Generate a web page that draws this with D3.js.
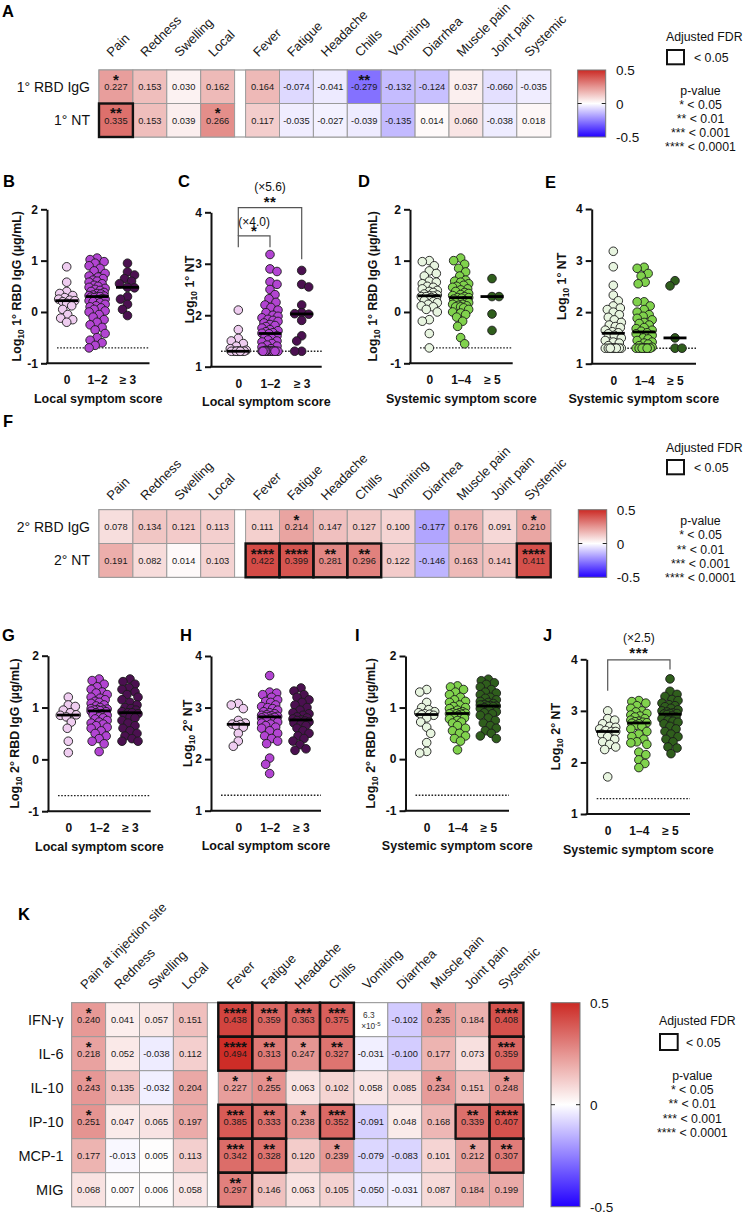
<!DOCTYPE html>
<html><head><meta charset="utf-8">
<script src="https://cdn.jsdelivr.net/npm/d3@7"></script>
<style>
body{margin:0;background:#fff}
svg{display:block;font-family:"Liberation Sans",Arial,Helvetica,sans-serif}
</style>
</head><body>
<svg id="c" width="744" height="1214"></svg>
<script>
// ---------------- DATA ----------------
const symptomCols = ["Pain","Redness","Swelling","Local","Fever","Fatigue","Headache","Chills","Vomiting","Diarrhea","Muscle pain","Joint pain","Systemic"];
const kCols = ["Pain at injection site","Redness","Swelling","Local","Fever","Fatigue","Headache","Chills","Vomiting","Diarrhea","Muscle pain","Joint pain","Systemic"];

const aRows = ["1° RBD IgG","1° NT"];
const aValues = [
  [0.227,0.153,0.030,0.162,0.164,-0.074,-0.041,-0.279,-0.132,-0.124,0.037,-0.060,-0.035],
  [0.335,0.153,0.039,0.266,0.117,-0.035,-0.027,-0.039,-0.135,0.014,0.060,-0.038,0.018]];
const aStars = [[1,0,0,0,0,0,0,2,0,0,0,0,0],[2,0,0,1,0,0,0,0,0,0,0,0,0]];
const aFdr = [[0,0,0,0,0,0,0,0,0,0,0,0,0],[1,0,0,0,0,0,0,0,0,0,0,0,0]];

const fRows = ["2° RBD IgG","2° NT"];
const fValues = [
  [0.078,0.134,0.121,0.113,0.111,0.214,0.147,0.127,0.100,-0.177,0.176,0.091,0.210],
  [0.191,0.082,0.014,0.103,0.422,0.399,0.281,0.296,0.122,-0.146,0.163,0.141,0.411]];
const fStars = [[0,0,0,0,0,1,0,0,0,0,0,0,1],[0,0,0,0,4,4,2,2,0,0,0,0,4]];
const fFdr = [[0,0,0,0,0,0,0,0,0,0,0,0,0],[0,0,0,0,1,1,1,1,0,0,0,0,1]];

const kRows = ["IFN-γ","IL-6","IL-10","IP-10","MCP-1","MIG"];
const kValues = [
  [0.240,0.041,0.057,0.151,0.438,0.359,0.363,0.375,0.000063,-0.102,0.235,0.184,0.408],
  [0.218,0.052,-0.038,0.112,0.494,0.313,0.247,0.327,-0.031,-0.100,0.177,0.073,0.359],
  [0.243,0.135,-0.032,0.204,0.227,0.255,0.063,0.102,0.058,0.085,0.234,0.151,0.248],
  [0.251,0.047,0.065,0.197,0.385,0.333,0.238,0.352,-0.091,0.048,0.168,0.339,0.407],
  [0.177,-0.013,0.005,0.113,0.342,0.328,0.120,0.239,-0.079,-0.083,0.101,0.212,0.307],
  [0.068,0.007,0.006,0.058,0.297,0.146,0.063,0.105,-0.050,-0.031,0.087,0.184,0.199]];
const kStars = [
  [1,0,0,0,4,3,3,3,0,0,1,0,4],
  [1,0,0,0,4,2,1,2,0,0,0,0,3],
  [1,0,0,0,1,1,0,0,0,0,1,0,1],
  [1,0,0,0,3,2,1,3,0,0,0,2,4],
  [0,0,0,0,3,2,0,1,0,0,0,1,2],
  [0,0,0,0,2,0,0,0,0,0,0,0,0]];
const kFdr = [
  [0,0,0,0,1,1,1,1,0,0,0,0,1],
  [0,0,0,0,1,1,0,1,0,0,0,0,1],
  [0,0,0,0,0,0,0,0,0,0,0,0,0],
  [0,0,0,0,1,1,0,1,0,0,0,1,1],
  [0,0,0,0,1,1,0,0,0,0,0,0,1],
  [0,0,0,0,1,0,0,0,0,0,0,0,0]];

const colorTicks = [0.5, 0, -0.5];
const legendLines = ["* < 0.05","** < 0.01","*** < 0.001","**** < 0.0001"];

const localCats = ["0","1–2","≥ 3"];
const sysCats = ["0","1–4","≥ 5"];

// B: Local vs 1° RBD IgG
const b0 = [0.88,0.58,0.4,0.36,0.32,0.28,0.25,0.23,0.22,0.2,0.17,0.12,0.05,-0.05,-0.12,-0.15,-0.2];
const b12 = [1.05,1.02,0.98,0.95,0.9,0.85,0.8,0.75,0.7,0.68,0.65,0.62,0.6,0.58,0.55,0.52,0.5,0.48,0.46,0.44,0.42,0.4,0.38,0.36,0.35,0.33,0.32,0.31,0.3,0.3,0.29,0.28,0.26,0.25,0.23,0.22,0.2,0.18,0.15,0.12,0.1,0.08,0.05,0.02,0.0,-0.05,-0.1,-0.15,-0.2,-0.25,-0.3,-0.35,-0.42,-0.5,-0.55,-0.6,-0.65,-0.7];
const b3 = [0.95,0.78,0.72,0.65,0.6,0.55,0.48,0.47,0.3,0.25,0.15,0.05,-0.07];
// C: Local vs 1° NT
const c0 = [2.1,1.72,1.55,1.5,1.45,1.4,1.35,1.32,1.3,1.3,1.3,1.3,1.3,1.3,1.3,1.3,1.3];
const c12 = [3.18,2.9,2.85,2.65,2.6,2.5,2.4,2.32,2.25,2.2,2.15,2.1,2.05,2.0,1.98,1.95,1.92,1.9,1.88,1.85,1.82,1.8,1.78,1.75,1.72,1.7,1.68,1.66,1.65,1.64,1.6,1.58,1.55,1.52,1.5,1.48,1.45,1.42,1.4,1.38,1.35,1.32,1.3,1.3,1.3,1.3,1.3,1.3,1.3,1.3,1.3,1.3,1.3,1.3,1.3,1.3,1.3,1.3];
const c3 = [2.87,2.6,2.55,2.2,2.05,2.03,2.02,1.9,1.6,1.5,1.3,1.3];
// D: Systemic vs 1° RBD IgG
const d0 = [1.0,0.98,0.9,0.8,0.75,0.7,0.6,0.58,0.55,0.5,0.48,0.45,0.42,0.4,0.38,0.35,0.33,0.32,0.31,0.3,0.3,0.28,0.26,0.25,0.22,0.2,0.18,0.15,0.12,0.1,0.05,0.0,-0.15,-0.18,-0.42,-0.7];
const d14 = [1.05,1.0,0.93,0.85,0.78,0.7,0.62,0.6,0.58,0.55,0.52,0.5,0.48,0.45,0.43,0.4,0.38,0.36,0.34,0.32,0.3,0.28,0.28,0.27,0.25,0.22,0.2,0.18,0.18,0.15,0.15,0.13,0.12,0.1,0.1,0.08,0.05,0.0,-0.02,-0.05,-0.1,-0.18,-0.28,-0.5,-0.62];
const d5 = [0.65,0.3,0.3,-0.04,-0.36];
// E: Systemic vs 1° NT
const e0 = [3.18,2.88,2.52,2.33,2.22,2.12,2.08,2.05,2.0,1.95,1.9,1.85,1.8,1.75,1.72,1.7,1.65,1.62,1.6,1.58,1.55,1.5,1.45,1.42,1.4,1.35,1.3,1.3,1.3,1.3,1.3,1.3,1.3,1.3,1.3,1.3,1.3,1.3];
const e14 = [2.87,2.85,2.75,2.7,2.58,2.55,2.2,2.2,2.12,2.05,2.0,1.95,1.92,1.88,1.85,1.8,1.78,1.75,1.7,1.68,1.65,1.63,1.6,1.58,1.55,1.5,1.48,1.45,1.42,1.4,1.38,1.35,1.32,1.3,1.3,1.3,1.3,1.3,1.3,1.3,1.3,1.3,1.3,1.3];
const e5 = [2.61,2.51,1.5,1.3,1.3];
// G: Local vs 2° RBD IgG
const g0 = [1.2,1.05,1.02,0.95,0.9,0.86,0.85,0.82,0.72,0.6,0.35,0.13];
const g12 = [1.55,1.52,1.45,1.4,1.35,1.3,1.28,1.25,1.2,1.18,1.15,1.12,1.1,1.08,1.05,1.03,1.0,0.98,0.97,0.96,0.95,0.95,0.94,0.93,0.92,0.9,0.88,0.86,0.85,0.82,0.8,0.78,0.75,0.72,0.7,0.68,0.65,0.62,0.6,0.55,0.5,0.45,0.4,0.35,0.3,0.15];
const g3 = [1.55,1.5,1.45,1.38,1.35,1.3,1.25,1.2,1.15,1.1,1.05,1.0,0.98,0.95,0.92,0.9,0.9,0.88,0.85,0.82,0.8,0.75,0.7,0.65,0.6,0.55,0.5,0.45,0.4,0.35,0.35];
// H: Local vs 2° NT
const h0 = [3.08,3.05,2.98,2.75,2.7,2.68,2.67,2.65,2.62,2.5,2.35,2.25];
const h12 = [3.62,3.3,3.28,3.25,3.2,3.15,3.12,3.1,3.05,3.02,3.0,2.98,2.95,2.92,2.9,2.88,2.86,2.85,2.84,2.83,2.82,2.82,2.81,2.8,2.78,2.75,2.72,2.7,2.68,2.65,2.62,2.6,2.55,2.5,2.45,2.4,2.35,2.3,2.02,1.9,1.72];
const h3 = [3.38,3.32,3.25,3.2,3.15,3.1,3.05,3.0,2.95,2.9,2.88,2.85,2.82,2.8,2.78,2.76,2.75,2.74,2.72,2.7,2.68,2.65,2.6,2.55,2.5,2.45,2.4,2.35,2.28,2.2,2.17];
// I: Systemic vs 2° RBD IgG
const i0 = [1.35,1.3,1.1,1.0,0.96,0.92,0.9,0.88,0.87,0.86,0.85,0.8,0.72,0.62,0.5,0.32,0.15,0.12];
const i14 = [1.42,1.4,1.35,1.3,1.25,1.2,1.15,1.12,1.1,1.05,1.02,1.0,0.98,0.95,0.92,0.9,0.9,0.89,0.88,0.88,0.87,0.85,0.83,0.8,0.78,0.75,0.72,0.7,0.65,0.6,0.55,0.5,0.45,0.4,0.35,0.18];
const i5 = [1.55,1.52,1.48,1.45,1.4,1.35,1.3,1.28,1.25,1.2,1.18,1.15,1.12,1.1,1.08,1.06,1.05,1.04,1.03,1.03,1.02,1.0,0.98,0.95,0.92,0.9,0.88,0.85,0.8,0.75,0.7,0.65,0.6,0.55,0.5,0.45,0.4];
// J: Systemic vs 2° NT
const j0 = [3.0,2.85,2.82,2.75,2.7,2.68,2.65,2.62,2.6,2.6,2.55,2.5,2.45,2.4,2.35,2.3,2.25,1.72];
const j14 = [3.2,3.18,3.15,3.1,3.05,3.0,2.98,2.95,2.92,2.9,2.88,2.85,2.82,2.8,2.79,2.78,2.77,2.76,2.75,2.72,2.7,2.65,2.6,2.55,2.5,2.45,2.4,2.38,2.35,2.2,2.15,2.05,1.98,1.9];
const j5 = [3.62,3.38,3.32,3.28,3.22,3.2,3.15,3.12,3.1,3.08,3.05,3.02,3.0,2.98,2.96,2.95,2.95,2.94,2.93,2.9,2.88,2.85,2.82,2.8,2.78,2.75,2.7,2.65,2.6,2.55,2.5,2.45,2.4,2.3,2.28,2.17];

const lodIgG = -0.7, lodNT = 1.3;
const igTicks = [-1,0,1,2], ntTicks = [1,2,3,4];

const cBrackets = [
  {a:"0", b:"≥ 3", top:4.09, leftEnd:3.54, rightEnd:3.09, fold:"(×5.6)", stars:"**"},
  {a:"0", b:"1–2", top:3.54, leftEnd:3.32, rightEnd:3.32, fold:"(×4.0)", stars:"*"}];
const jBrackets = [
  {a:"0", b:"≥ 5", top:3.99, leftEnd:3.39, rightEnd:3.80, fold:"(×2.5)", stars:"***"}];

// ---------------- DRAWING ----------------
const svg = d3.select("#c");
const FONT = '"Liberation Sans",Arial,Helvetica,sans-serif';
const color = d3.scaleLinear().domain([-0.5,0,0.5]).range(["#2200ff","#ffffff","#cc2a24"]).clamp(true);
const fmt3 = v => d3.format(".3f")(v).replace("\u2212","-");

function panelLetter(t, x, y){
  svg.append("text").attr("x",x).attr("y",y).attr("font-size",16.5).attr("font-weight","bold").text(t);
}

function heatmap(o){
  const g = svg.append("g");
  const nC = o.cols.length;
  const xOf = j => o.x0 + j*o.cw + (j>=4 ? o.gap : 0);
  const yS = d3.scaleBand().domain(d3.range(o.rows.length)).range([o.y0, o.y0 + o.rows.length*o.rh]);
  const cells = [];
  o.values.forEach((row,i)=>row.forEach((v,j)=>cells.push({i,j,v,s:o.stars[i][j],f:o.fdr[i][j]})));
  const W = nC*o.cw + o.gap;
  g.append("rect").attr("x",o.x0).attr("y",o.y0).attr("width",W).attr("height",o.rows.length*o.rh)
    .attr("fill","#fff").attr("stroke","#9a9a9a").attr("stroke-width",1.2);
  g.selectAll("rect.cell").data(cells).join("rect").attr("class","cell")
    .attr("x",d=>xOf(d.j)).attr("y",d=>yS(d.i)).attr("width",o.cw).attr("height",yS.bandwidth())
    .attr("fill",d=>color(d.v)).attr("stroke","#9a9a9a").attr("stroke-width",1);
  cells.forEach(d=>{
    const cx = xOf(d.j)+o.cw/2, cy = yS(d.i)+yS.bandwidth()/2;
    if (Math.abs(d.v) > 0 && Math.abs(d.v) < 0.001){
      const e = Math.floor(Math.log10(Math.abs(d.v)));
      const m = d.v/Math.pow(10,e);
      g.append("text").attr("x",cx-2).attr("y",cy-2).attr("text-anchor","middle")
        .attr("font-size",8.3).attr("fill","#333").text(d3.format(".1f")(m));
      const t = g.append("text").attr("x",cx).attr("y",cy+9).attr("text-anchor","middle")
        .attr("font-size",8.3).attr("fill","#333");
      t.append("tspan").text("×10");
      t.append("tspan").attr("font-size",6).attr("dy",-3).text(String(e).replace("\u2212","-"));
    } else {
      g.append("text").attr("x",cx).attr("y",cy+3.6).attr("text-anchor","middle")
        .attr("font-size",9.3).attr("fill","#1a1a1a").text(fmt3(d.v));
    }
    if (d.s>0){
      g.append("text").attr("x",cx).attr("y",cy-1.8).attr("text-anchor","middle")
        .attr("font-size",15).attr("font-weight","bold").attr("fill","#111")
        .text("*".repeat(d.s));
    }
  });
  g.selectAll("rect.fdr").data(cells.filter(d=>d.f)).join("rect").attr("class","fdr")
    .attr("x",d=>xOf(d.j)).attr("y",d=>yS(d.i)).attr("width",o.cw).attr("height",yS.bandwidth())
    .attr("fill","none").attr("stroke","#111").attr("stroke-width",2.4);
  g.selectAll("text.rl").data(o.rows).join("text").attr("class","rl")
    .attr("x",o.rowX).attr("y",(d,i)=>yS(i)+yS.bandwidth()/2+5).attr("text-anchor","end")
    .attr("font-size",o.rowFont).attr("fill","#111").text(d=>d);
  g.selectAll("text.cl").data(o.cols).join("text").attr("class","cl")
    .attr("transform",(d,j)=>`translate(${xOf(j)+o.cw/2+o.colDx},${o.colY}) rotate(-45)`)
    .attr("font-size",13).attr("fill","#1a1a1a").text(d=>d);
}

function colorbar(x,y,w,h,labelX, id){
  const defs = svg.append("defs");
  const grad = defs.append("linearGradient").attr("id",id).attr("x1",0).attr("y1",0).attr("x2",0).attr("y2",1);
  d3.range(0,1.0001,0.05).forEach(t=>{
    grad.append("stop").attr("offset",t).attr("stop-color",color(0.5 - t));
  });
  svg.append("rect").attr("x",x).attr("y",y).attr("width",w).attr("height",h)
    .attr("fill",`url(#${id})`).attr("stroke","#777").attr("stroke-width",1);
  const ys = d3.scaleLinear().domain([0.5,-0.5]).range([y,y+h]);
  svg.append("line").attr("x1",x).attr("x2",x+4).attr("y1",ys(0)).attr("y2",ys(0)).attr("stroke","#222");
  svg.append("line").attr("x1",x+w-4).attr("x2",x+w).attr("y1",ys(0)).attr("y2",ys(0)).attr("stroke","#222");
  svg.selectAll(null).data(colorTicks).join("text")
    .attr("x",labelX).attr("y",d=>ys(d)+5).attr("font-size",13.5).attr("fill","#111").text(d=>String(d));
}

function legend(o){
  svg.append("text").attr("x",o.x).attr("y",o.adjY+4.5).attr("font-size",12.3).attr("fill","#111").text("Adjusted FDR");
  svg.append("rect").attr("x",o.x+1).attr("y",o.sqY).attr("width",o.sqW).attr("height",o.sqH)
    .attr("fill","none").attr("stroke","#111").attr("stroke-width",2);
  svg.append("text").attr("x",o.ltX).attr("y",o.sqY+o.sqH/2+4.5).attr("font-size",12.3).attr("fill","#111").text("< 0.05");
  svg.append("text").attr("x",o.cx).attr("y",o.pvY+4.5).attr("text-anchor","middle").attr("font-size",12.3).attr("fill","#111").text("p-value");
  svg.selectAll(null).data(legendLines).join("text")
    .attr("x",o.cx).attr("y",(d,i)=>o.l0+i*o.dl+4.5).attr("text-anchor","middle")
    .attr("font-size",12.3).attr("fill","#111").text(d=>d);
}

function swarm(vals, cx, y){
  const minD = 7.0, maxOff = 8.5, step = 1;
  const pts = vals.map(v=>({v, y:y(v)})).sort((a,b)=>d3.ascending(a.y,b.y));
  const placed = [];
  pts.forEach((p,idx)=>{
    let best = 0, bestScore = -1, found = false;
    const first = idx%2 ? -1 : 1;
    for (let k=0;k<=maxOff/step && !found;k++){
      const offs = k===0 ? [0] : [first*k*step, -first*k*step];
      for (const off of offs){
        let md = Infinity;
        for (const q of placed){ const dd = Math.hypot(q.x-(cx+off), q.y-p.y); if (dd<md) md = dd; }
        if (md >= minD){ best = off; found = true; break; }
        if (md > bestScore + 0.3){ bestScore = md; best = off; }
      }
    }
    p.x = cx + best; placed.push(p);
  });
  return placed;
}

function scatter(o){
  const g = svg.append("g");
  const y = d3.scaleLinear().domain(o.dom).range([o.bottom,o.top]);
  const x = d3.scalePoint().domain(o.cats).range([o.c0,o.c2]);
  g.append("line").attr("x1",o.ax+10).attr("x2",o.xEnd).attr("y1",y(o.lod)).attr("y2",y(o.lod))
    .attr("stroke","#222").attr("stroke-width",1.3).attr("stroke-dasharray","1.6,1.6");
  o.groups.forEach((vals,gi)=>{
    const pts = swarm(vals, x(o.cats[gi]), y);
    g.selectAll(null).data(pts).join("circle")
      .attr("cx",d=>d.x).attr("cy",d=>d.y).attr("r",4.3)
      .attr("fill",o.colors[gi]).attr("stroke","#1c1c1c").attr("stroke-width",0.9);
    const med = d3.median(vals);
    g.append("line").attr("x1",x(o.cats[gi])-11.5).attr("x2",x(o.cats[gi])+11.5)
      .attr("y1",y(med)).attr("y2",y(med)).attr("stroke","#000").attr("stroke-width",2.8);
  });
  const ya = g.append("g").attr("transform",`translate(${o.ax},0)`)
    .call(d3.axisLeft(y).tickValues(o.ticks).tickSize(6).tickSizeOuter(0).tickPadding(3).tickFormat(d3.format("d")));
  ya.select(".domain").attr("stroke","#111").attr("stroke-width",2);
  ya.selectAll(".tick line").attr("stroke","#111").attr("stroke-width",2);
  ya.selectAll(".tick text").attr("font-size",12).attr("font-weight","bold").attr("font-family",FONT).attr("fill","#111")
    .text(function(){ return this.textContent.replace("\u2212","-"); });
  g.append("line").attr("x1",o.ax-1).attr("x2",o.xEnd).attr("y1",o.bottom).attr("y2",o.bottom)
    .attr("stroke","#111").attr("stroke-width",2);
  const xa = g.append("g").attr("transform",`translate(0,${o.bottom})`)
    .call(d3.axisBottom(x).tickSize(0).tickPadding(12.5));
  xa.select(".domain").remove();
  xa.selectAll(".tick text").attr("font-size",12).attr("font-weight","bold").attr("font-family",FONT).attr("fill","#111");
  g.append("text").attr("x",(o.ax+o.xEnd)/2).attr("y",o.bottom+39.5).attr("text-anchor","middle")
    .attr("font-size",12.5).attr("font-weight","bold").attr("fill","#111").text(o.xTitle);
  const yt = g.append("text").attr("transform",`translate(${o.yTitleX},${(o.top+o.bottom)/2}) rotate(-90)`)
    .attr("text-anchor","middle").attr("font-size",12.4).attr("font-weight","bold").attr("fill","#111");
  yt.append("tspan").text("Log");
  yt.append("tspan").attr("font-size",8.5).attr("dy",3).text("10");
  yt.append("tspan").attr("dy",-3).text(" " + o.yTitle);
  (o.brackets||[]).forEach(b=>{
    const xa_ = x(b.a), xb = x(b.b), yt_ = y(b.top);
    g.append("path").attr("d",`M${xa_},${y(b.leftEnd)}V${yt_}H${xb}V${y(b.rightEnd)}`)
      .attr("fill","none").attr("stroke","#555").attr("stroke-width",1.2);
    const cx = (xa_+xb)/2;
    g.append("text").attr("x",cx).attr("y",yt_-b.foldDy).attr("text-anchor","middle")
      .attr("font-size",12).attr("fill","#111").text(b.fold);
    g.append("text").attr("x",cx).attr("y",yt_-b.starDy).attr("text-anchor","middle")
      .attr("font-size",15).attr("font-weight","bold").attr("letter-spacing",0.5).attr("fill","#111").text(b.stars);
  });
}

// ---- Panel A ----
panelLetter("A",2,17);
heatmap({x0:99, y0:70, cw:33.9, rh:33.5, gap:11, rows:aRows, cols:symptomCols, values:aValues, stars:aStars, fdr:aFdr,
  rowX:90, rowFont:14, colY:57.5, colDx:-4});
colorbar(577.7,70,28,67,616,"gA");
legend({x:666, adjY:36.7, sqY:50, sqW:17, sqH:14.3, ltX:694, cx:700.5, pvY:90, l0:104.3, dl:14.2});

// ---- Panels B-E ----
panelLetter("B",3,187); panelLetter("C",178,187); panelLetter("D",358,187); panelLetter("E",545,188);
const localColors = ["#efcdf0","#b244d2","#4b1050"];
const sysColors = ["#e8f5e0","#80d24c","#2f5e1c"];
scatter({ax:47, top:209.3, bottom:363.3, xEnd:149.5, dom:[-1,2], ticks:igTicks, cats:localCats, c0:66.7, c2:127.5,
  groups:[b0,b12,b3], colors:localColors, lod:lodIgG, yTitle:"1° RBD IgG (µg/mL)", yTitleX:21, xTitle:"Local symptom score"});
scatter({ax:211, top:212.3, bottom:366.7, xEnd:321.7, dom:[1,4], ticks:ntTicks, cats:localCats, c0:238.3, c2:301.7,
  groups:[c0,c12,c3], colors:localColors, lod:lodNT, yTitle:"1° NT", yTitleX:194, xTitle:"Local symptom score",
  brackets:[Object.assign({foldDy:17, starDy:0.5},cBrackets[0]), Object.assign({foldDy:10, starDy:0},cBrackets[1])]});
scatter({ax:410, top:209.3, bottom:363.3, xEnd:512.7, dom:[-1,2], ticks:igTicks, cats:sysCats, c0:429.3, c2:492,
  groups:[d0,d14,d5], colors:sysColors, lod:lodIgG, yTitle:"1° RBD IgG (µg/mL)", yTitleX:377, xTitle:"Systemic symptom score"});
scatter({ax:591.7, top:209, bottom:363.7, xEnd:696, dom:[1,4], ticks:ntTicks, cats:sysCats, c0:613.3, c2:675,
  groups:[e0,e14,e5], colors:sysColors, lod:lodNT, yTitle:"1° NT", yTitleX:566, xTitle:"Systemic symptom score"});

// ---- Panel F ----
panelLetter("F",3,427);
heatmap({x0:99, y0:509.7, cw:33.9, rh:33.8, gap:11, rows:fRows, cols:symptomCols, values:fValues, stars:fStars, fdr:fFdr,
  rowX:90, rowFont:14, colY:501, colDx:-4});
colorbar(578.3,509.7,28.4,67.6,616.7,"gF");
legend({x:666, adjY:447, sqY:460, sqW:17, sqH:14.3, ltX:694, cx:700.5, pvY:520, l0:534.7, dl:14.4});

// ---- Panels G-J ----
panelLetter("G",2,641); panelLetter("H",180,641); panelLetter("I",355,641); panelLetter("J",543,641);
scatter({ax:48, top:655.7, bottom:811.2, xEnd:150.7, dom:[-1,2], ticks:igTicks, cats:localCats, c0:68.3, c2:130,
  groups:[g0,g12,g3], colors:localColors, lod:lodIgG, yTitle:"2° RBD IgG (µg/mL)", yTitleX:19, xTitle:"Local symptom score"});
scatter({ax:211, top:656, bottom:810.7, xEnd:321, dom:[1,4], ticks:ntTicks, cats:localCats, c0:238.3, c2:301,
  groups:[h0,h12,h3], colors:localColors, lod:lodNT, yTitle:"2° NT", yTitleX:192, xTitle:"Local symptom score"});
scatter({ax:405.5, top:656, bottom:810.7, xEnd:509, dom:[-1,2], ticks:igTicks, cats:sysCats, c0:426.7, c2:488.3,
  groups:[i0,i14,i5], colors:sysColors, lod:lodIgG, yTitle:"2° RBD IgG (µg/mL)", yTitleX:375, xTitle:"Systemic symptom score"});
scatter({ax:586.7, top:659.3, bottom:814, xEnd:690, dom:[1,4], ticks:ntTicks, cats:sysCats, c0:607.7, c2:670,
  groups:[j0,j14,j5], colors:sysColors, lod:lodNT, yTitle:"2° NT", yTitleX:560, xTitle:"Systemic symptom score",
  brackets:[Object.assign({foldDy:17.5, starDy:2},jBrackets[0])]});

// ---- Panel K ----
panelLetter("K",18,920);
heatmap({x0:71.7, y0:1002.7, cw:33.9, rh:34, gap:11, rows:kRows, cols:kCols, values:kValues, stars:kStars, fdr:kFdr,
  rowX:63.5, rowFont:14.5, colY:990, colDx:-3});
colorbar(551,1002.7,29,204,590,"gK");
legend({x:659, adjY:1020.7, sqY:1034, sqW:17.7, sqH:16, ltX:686, cx:692.3, pvY:1075, l0:1089.3, dl:14.5});
</script>
</body></html>
